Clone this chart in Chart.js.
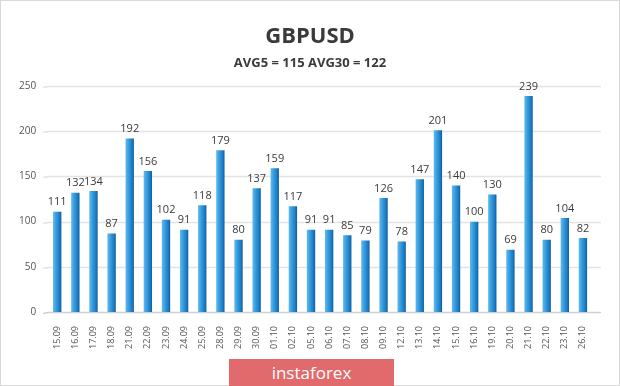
<!DOCTYPE html>
<html>
<head>
<meta charset="utf-8">
<script src="https://cdn.jsdelivr.net/npm/chart.js@4.4.0/dist/chart.umd.min.js"></script>
<style>
  html, body { margin: 0; padding: 0; background: #fff; }
  #wrap { position: relative; width: 620px; height: 386px; box-sizing: border-box; border: 1px solid #d9d9d9; }
  #badge {
    position: absolute; left: 228px; top: 358px; width: 165px; height: 28px;
    background: #e06a6c; color: #fff; font-family: "Open Sans", sans-serif;
    font-size: 17px; line-height: 27px; text-align: center;
  }
</style>
</head>
<body>
<div id="wrap">
  <canvas id="pipsChart" width="618" height="384"></canvas>
  <div id="badge">instaforex</div>
</div>
<script>
// Daily GBPUSD ranges (pips)
const dates = ["15.09", "16.09", "17.09", "18.09", "21.09", "22.09", "23.09", "24.09", "25.09", "28.09",
  "29.09", "30.09", "01.10", "02.10", "05.10", "06.10", "07.10", "08.10", "09.10", "12.10",
  "13.10", "14.10", "15.10", "16.10", "19.10", "20.10", "21.10", "22.10", "23.10", "26.10"];
const pips = [111, 132, 134, 87, 192, 156, 102, 91, 118, 179,
  80, 137, 159, 117, 91, 91, 85, 79, 126, 78,
  147, 201, 140, 100, 130, 69, 239, 80, 104, 82];
const yTicks = [0, 50, 100, 150, 200, 250];
const titleText = "GBPUSD";
const subtitleText = "AVG5 = 115 AVG30 = 122";

const barPct = 0.46;

// horizontal gradient on each bar for the cylinder look
function barFill(ctx) {
  const chart = ctx.chart;
  const xScale = chart.scales.x;
  if (!xScale || !chart.chartArea) return "#2a8fd4";
  const cx = xScale.getPixelForValue(ctx.dataIndex);
  const w = (xScale.width / dates.length) * barPct;
  const g = chart.ctx.createLinearGradient(cx - w / 2, 0, cx + w / 2, 0);
  g.addColorStop(0, "#62b9ec");
  g.addColorStop(0.45, "#2f97dc");
  g.addColorStop(0.8, "#1a79c2");
  g.addColorStop(1, "#125a96");
  return g;
}

// grid lines a bit wider than the bar area, like the original
const wideGrid = {
  id: "wideGrid",
  beforeDatasetsDraw(chart) {
    const ctx = chart.ctx;
    const area = chart.chartArea;
    const y = chart.scales.y;
    ctx.save();
    yTicks.forEach(v => {
      const py = Math.round(y.getPixelForValue(v)) + 0.5;
      ctx.strokeStyle = v === 0 ? "#cfcfcf" : "#e3e3e3";
      ctx.lineWidth = 1.5;
      ctx.beginPath();
      ctx.moveTo(area.left - 5, py + 1);
      ctx.lineTo(area.left, py);
      ctx.lineTo(area.right + 9, py);
      ctx.stroke();
    });
    ctx.restore();
  }
};

// title block centred on the whole picture, not on the padded box
const headline = {
  id: "headline",
  afterDraw(chart) {
    const ctx = chart.ctx;
    const cx = chart.width / 2;
    ctx.save();
    ctx.fillStyle = "#3a3a3a";
    ctx.textAlign = "center";
    ctx.textBaseline = "middle";
    ctx.font = "bold 22px 'Open Sans', sans-serif";
    ctx.fillText(titleText, cx, 36);
    ctx.font = "bold 13px 'Open Sans', sans-serif";
    ctx.fillText(subtitleText, cx, 62);
    ctx.restore();
  }
};

// values above the bars
const valueLabels = {
  id: "valueLabels",
  afterDatasetsDraw(chart) {
    const ctx = chart.ctx;
    const meta = chart.getDatasetMeta(0);
    ctx.save();
    ctx.font = "11px 'Open Sans', sans-serif";
    ctx.fillStyle = "#3a3a3a";
    ctx.textAlign = "center";
    ctx.textBaseline = "bottom";
    meta.data.forEach((bar, i) => {
      ctx.fillText(pips[i], bar.x, bar.y - 4);
    });
    ctx.restore();
  }
};

const chartConfig = {
  type: "bar",
  data: {
    labels: dates,
    datasets: [{
      data: pips,
      backgroundColor: barFill,
      borderWidth: 0,
      barPercentage: barPct,
      categoryPercentage: 1
    }]
  },
  options: {
    responsive: false,
    animation: false,
    layout: { padding: { top: 85, left: 14, right: 27, bottom: 30 } },
    plugins: {
      legend: { display: false },
      tooltip: { enabled: false },
      title: { display: false }
    },
    scales: {
      x: {
        grid: { display: false },
        border: { display: false },
        ticks: {
          color: "#555",
          font: { family: "'Open Sans', sans-serif", size: 9 },
          minRotation: 90,
          maxRotation: 90,
          autoSkip: false,
          padding: 6
        }
      },
      y: {
        min: 0,
        max: 250,
        afterBuildTicks: axis => { axis.ticks = yTicks.map(v => ({ value: v })); },
        grid: { display: false },
        border: { display: false },
        ticks: {
          color: "#555",
          font: { family: "'Open Sans', sans-serif", size: 10 },
          padding: 4
        }
      }
    }
  },
  plugins: [wideGrid, valueLabels, headline]
};

const pipsChart = new Chart(document.getElementById("pipsChart").getContext("2d"), chartConfig);
</script>
</body>
</html>
